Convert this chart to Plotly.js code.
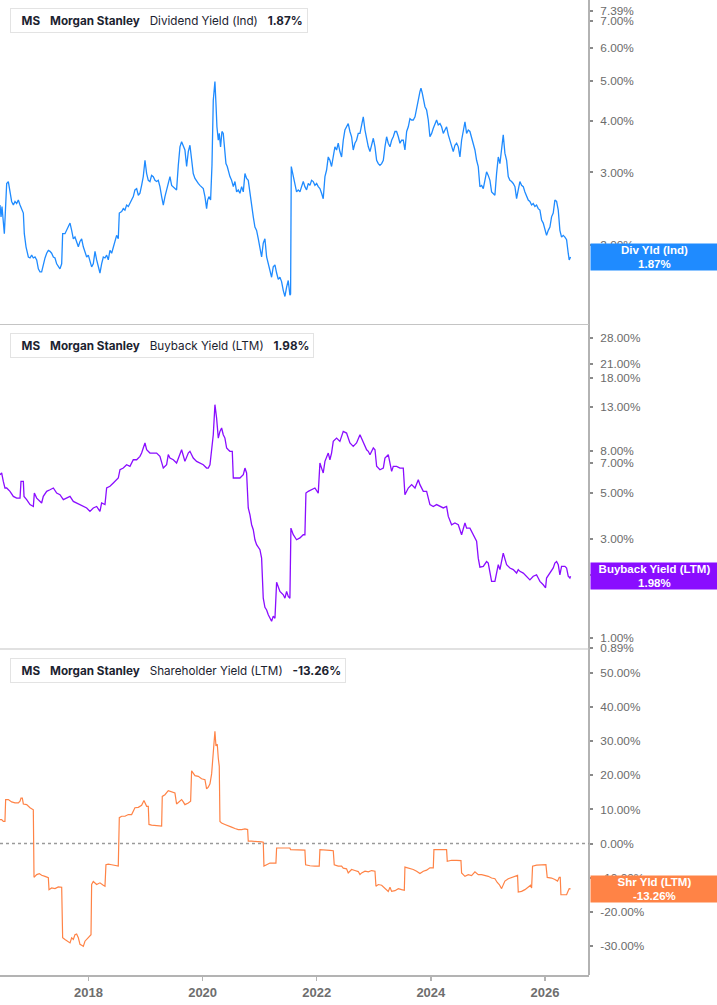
<!DOCTYPE html>
<html>
<head>
<meta charset="utf-8">
<script src="https://cdn.plot.ly/plotly-3.0.1.min.js"></script>
<style>
html,body{margin:0;padding:0;background:#fff;}
#chart{width:717px;height:1005px;}
</style>
</head>
<body>
<div id="chart"></div>
<script>
// ---------------- DATA ----------------
const ticker = "MS";
const company = "Morgan Stanley";

const divName = "Dividend Yield (Ind)";
const divShort = "Div Yld (Ind)";
const divYears = [
2016.449,2016.467,2016.484,2016.507,2016.525,2016.542,2016.566,2016.595,2016.624,2016.653,
2016.683,2016.712,2016.741,2016.770,2016.800,2016.829,2016.858,2016.875,2016.905,2016.946,
2016.975,2017.004,2017.033,2017.062,2017.092,2017.121,2017.150,2017.179,2017.208,2017.238,
2017.267,2017.296,2017.325,2017.354,2017.384,2017.413,2017.442,2017.471,2017.500,2017.530,
2017.547,2017.588,2017.617,2017.646,2017.676,2017.705,2017.734,2017.763,2017.792,2017.822,
2017.851,2017.880,2017.909,2017.938,2017.968,2017.997,2018.026,2018.055,2018.084,2018.114,
2018.143,2018.172,2018.201,2018.230,2018.260,2018.289,2018.318,2018.347,2018.376,2018.406,
2018.435,2018.464,2018.493,2018.522,2018.540,2018.581,2018.610,2018.639,2018.668,2018.698,
2018.727,2018.756,2018.785,2018.814,2018.844,2018.873,2018.902,2018.931,2018.960,2018.990,
2019.019,2019.048,2019.077,2019.106,2019.136,2019.165,2019.194,2019.223,2019.252,2019.282,
2019.311,2019.340,2019.369,2019.398,2019.428,2019.457,2019.486,2019.515,2019.544,2019.574,
2019.603,2019.632,2019.661,2019.690,2019.720,2019.749,2019.778,2019.807,2019.836,2019.866,
2019.895,2019.924,2019.953,2019.982,2020.012,2020.041,2020.070,2020.088,2020.111,2020.140,
2020.164,2020.187,2020.216,2020.234,2020.251,2020.275,2020.292,2020.315,2020.339,2020.362,
2020.385,2020.409,2020.432,2020.456,2020.479,2020.508,2020.538,2020.567,2020.596,2020.625,
2020.654,2020.684,2020.713,2020.742,2020.771,2020.800,2020.830,2020.859,2020.888,2020.917,
2020.946,2020.976,2021.005,2021.034,2021.063,2021.092,2021.122,2021.151,2021.180,2021.209,
2021.238,2021.268,2021.297,2021.326,2021.355,2021.384,2021.414,2021.443,2021.472,2021.501,
2021.530,2021.542,2021.554,2021.589,2021.618,2021.647,2021.676,2021.706,2021.735,2021.764,
2021.793,2021.822,2021.852,2021.881,2021.910,2021.939,2021.968,2021.998,2022.027,2022.056,
2022.085,2022.114,2022.144,2022.173,2022.202,2022.231,2022.260,2022.290,2022.319,2022.348,
2022.377,2022.406,2022.436,2022.465,2022.494,2022.523,2022.552,2022.582,2022.611,2022.640,
2022.669,2022.698,2022.728,2022.758,2022.787,2022.816,2022.846,2022.875,2022.904,2022.933,
2022.962,2022.992,2023.021,2023.050,2023.079,2023.108,2023.138,2023.167,2023.196,2023.225,
2023.254,2023.284,2023.313,2023.342,2023.371,2023.400,2023.430,2023.459,2023.488,2023.517,
2023.546,2023.576,2023.605,2023.634,2023.663,2023.692,2023.722,2023.751,2023.780,2023.809,
2023.827,2023.850,2023.868,2023.897,2023.926,2023.955,2023.984,2024.014,2024.043,2024.072,
2024.101,2024.130,2024.160,2024.189,2024.218,2024.247,2024.276,2024.306,2024.335,2024.364,
2024.393,2024.422,2024.452,2024.481,2024.510,2024.539,2024.568,2024.598,2024.627,2024.656,
2024.685,2024.714,2024.744,2024.773,2024.802,2024.831,2024.860,2024.890,2024.919,2024.948,
2024.977,2025.006,2025.036,2025.065,2025.094,2025.123,2025.152,2025.182,2025.211,2025.240,
2025.269,2025.298,2025.328,2025.357,2025.386,2025.415,2025.444,2025.474,2025.503,2025.532,
2025.561,2025.590,2025.620,2025.649,2025.678,2025.707,2025.736,2025.766,2025.795,2025.824,
2025.853,2025.882,2025.912,2025.941,2025.970,2025.999,2026.028,2026.058,2026.087,2026.116,
2026.145,2026.174,2026.204,2026.233,2026.262,2026.291,2026.320,2026.350,2026.379,2026.408,
2026.425,2026.449];
const divYield = [
2.50,2.34,2.48,2.21,2.13,2.39,2.82,2.85,2.72,2.55,
2.50,2.55,2.52,2.57,2.50,2.43,2.39,2.13,1.98,1.87,
1.86,1.89,1.86,1.87,1.84,1.75,1.72,1.72,1.80,1.86,
1.91,1.94,1.93,1.91,1.87,1.86,1.80,1.77,1.75,1.80,
2.13,2.13,2.17,2.21,2.26,2.17,2.07,2.09,2.02,1.98,
2.04,2.07,1.98,1.91,1.87,1.89,1.84,1.77,1.80,1.93,
1.84,1.77,1.71,1.80,1.87,1.86,1.89,1.84,1.94,1.91,
1.98,2.02,2.11,2.07,2.39,2.41,2.45,2.43,2.50,2.48,
2.52,2.57,2.62,2.72,2.74,2.64,2.67,2.79,2.93,3.21,
2.98,2.87,2.85,2.95,2.93,2.87,2.85,2.87,2.77,2.62,
2.50,2.62,2.72,2.82,2.93,2.79,2.77,2.74,2.72,3.12,
3.46,3.56,3.46,3.40,3.10,3.37,3.49,3.27,2.98,2.90,
2.85,2.82,2.79,2.77,2.74,2.62,2.45,2.57,2.62,2.57,
3.12,4.49,4.98,4.41,3.87,3.59,3.73,3.46,3.77,3.73,
3.46,3.15,3.10,2.98,2.93,2.87,2.77,2.85,2.69,2.72,
2.67,2.77,2.69,2.98,2.90,2.87,2.67,2.45,2.34,2.21,
2.17,2.07,1.98,1.87,2.02,2.07,1.87,1.80,1.71,1.67,
1.77,1.79,1.71,1.65,1.67,1.63,1.55,1.50,1.58,1.64,
1.51,1.52,3.10,2.93,2.82,2.69,2.72,2.69,2.77,2.85,
2.77,2.72,2.82,2.79,2.87,2.85,2.79,2.82,2.77,2.74,
2.67,2.59,2.93,3.04,3.27,3.21,3.10,3.30,3.46,3.40,
3.53,3.37,3.27,3.59,3.80,3.87,3.94,3.77,3.66,3.40,
3.53,3.59,3.73,3.73,3.94,4.09,3.80,3.59,3.46,3.37,
3.53,3.63,3.46,3.21,3.15,3.12,3.15,3.21,3.46,3.66,
3.53,3.46,3.59,3.66,3.77,3.77,3.66,3.53,3.59,3.59,
3.40,3.77,3.87,4.05,4.02,4.02,4.09,4.25,4.49,4.71,
4.80,4.67,4.49,4.33,4.25,4.02,3.66,3.73,3.84,3.94,
4.02,3.91,3.94,3.87,3.73,3.80,3.87,3.70,3.59,3.46,
3.37,3.49,3.53,3.46,3.27,3.59,3.77,3.98,3.73,3.80,
3.77,3.66,3.53,3.40,3.21,3.10,2.77,2.79,2.74,2.87,
3.01,2.95,2.87,2.69,2.67,2.64,2.98,3.27,3.15,3.37,
3.70,3.34,3.21,2.93,2.87,2.85,2.82,2.77,2.59,2.72,
2.85,2.79,2.77,2.69,2.62,2.57,2.55,2.50,2.52,2.48,
2.50,2.45,2.43,2.30,2.26,2.17,2.11,2.17,2.21,2.34,
2.39,2.57,2.55,2.43,2.17,2.09,2.11,2.09,2.06,1.91,
1.84,1.87];

const bbName = "Buyback Yield (LTM)";
const bbShort = "Buyback Yield (LTM)";
const bbYears = [
2016.449,2016.478,2016.507,2016.536,2016.566,2016.624,2016.683,2016.741,2016.800,2016.817,
2016.858,2016.870,2016.916,2016.975,2017.033,2017.051,2017.092,2017.150,2017.179,2017.208,
2017.267,2017.325,2017.384,2017.442,2017.500,2017.559,2017.617,2017.676,2017.734,2017.792,
2017.851,2017.909,2017.968,2018.026,2018.084,2018.143,2018.201,2018.230,2018.289,2018.318,
2018.376,2018.435,2018.493,2018.522,2018.552,2018.610,2018.668,2018.727,2018.785,2018.844,
2018.902,2018.931,2018.960,2018.990,2019.019,2019.077,2019.136,2019.194,2019.252,2019.311,
2019.369,2019.398,2019.428,2019.486,2019.544,2019.603,2019.632,2019.690,2019.749,2019.778,
2019.836,2019.895,2019.953,2020.012,2020.070,2020.099,2020.129,2020.158,2020.187,2020.216,
2020.245,2020.275,2020.304,2020.333,2020.362,2020.391,2020.421,2020.450,2020.479,2020.520,
2020.538,2020.596,2020.654,2020.713,2020.742,2020.771,2020.800,2020.830,2020.859,2020.888,
2020.917,2020.946,2021.005,2021.034,2021.063,2021.092,2021.122,2021.151,2021.180,2021.209,
2021.238,2021.268,2021.297,2021.326,2021.355,2021.414,2021.443,2021.472,2021.501,2021.530,
2021.548,2021.589,2021.647,2021.706,2021.764,2021.793,2021.811,2021.852,2021.910,2021.968,
2022.027,2022.056,2022.085,2022.114,2022.144,2022.202,2022.231,2022.260,2022.290,2022.348,
2022.406,2022.465,2022.523,2022.582,2022.640,2022.698,2022.758,2022.787,2022.816,2022.875,
2022.904,2022.933,2022.992,2023.021,2023.050,2023.108,2023.167,2023.196,2023.254,2023.313,
2023.342,2023.400,2023.459,2023.517,2023.546,2023.605,2023.663,2023.722,2023.780,2023.809,
2023.868,2023.926,2023.984,2024.043,2024.101,2024.160,2024.218,2024.276,2024.306,2024.364,
2024.422,2024.481,2024.539,2024.598,2024.627,2024.685,2024.744,2024.802,2024.831,2024.860,
2024.919,2024.977,2025.006,2025.065,2025.123,2025.152,2025.182,2025.211,2025.269,2025.328,
2025.386,2025.444,2025.503,2025.532,2025.561,2025.620,2025.678,2025.736,2025.795,2025.853,
2025.882,2025.912,2025.970,2026.011,2026.028,2026.087,2026.145,2026.174,2026.204,2026.233,
2026.262,2026.291,2026.350,2026.379,2026.408,2026.437,2026.449];
const bbYield = [
6.12,6.24,5.68,5.28,5.28,5.09,4.81,4.72,4.72,5.68,
5.68,4.81,4.64,4.39,4.30,4.99,4.72,4.55,4.47,4.81,
5.09,5.18,5.28,4.99,4.90,4.64,4.72,4.81,4.55,4.47,
4.39,4.30,4.23,4.07,4.23,4.30,4.07,4.47,4.39,5.28,
5.38,5.58,5.79,5.90,6.47,6.59,6.84,6.72,7.23,7.23,
7.51,7.79,8.24,8.71,8.08,7.79,7.79,7.79,7.51,6.59,
6.84,7.65,7.37,7.23,6.97,7.79,8.08,7.10,7.79,7.94,
7.37,7.10,6.97,6.84,6.59,6.59,6.84,8.24,9.55,13.34,
11.50,9.20,9.91,10.29,9.55,9.20,8.24,8.08,7.94,7.94,
5.90,5.90,5.90,6.12,6.59,6.24,4.23,3.92,3.51,3.32,
2.97,2.81,2.66,2.42,1.55,1.40,1.36,1.29,1.24,1.20,
1.27,1.24,1.85,1.74,1.67,1.61,1.55,1.67,1.58,1.55,
3.38,3.14,2.97,3.03,3.14,3.14,4.99,5.09,5.18,5.28,
4.99,6.97,6.59,6.24,7.10,7.79,7.23,7.79,8.87,9.20,
8.87,9.91,9.73,8.71,8.39,8.71,9.55,9.20,8.71,8.08,
7.94,7.65,8.24,8.08,6.72,6.47,6.59,7.37,7.65,6.35,
6.72,6.72,6.59,6.59,4.90,5.28,5.48,5.28,5.79,5.48,
5.09,5.09,4.39,4.30,4.39,4.30,4.23,4.30,3.85,3.51,
3.58,3.51,3.14,3.58,3.38,3.38,3.14,2.92,2.42,2.19,
2.21,2.33,2.29,1.87,1.87,2.05,2.25,2.13,2.56,2.25,
2.17,2.13,2.05,2.13,2.09,2.05,1.98,1.90,1.98,2.01,
1.94,1.87,1.80,1.74,1.94,2.05,2.17,2.29,2.33,2.25,
2.01,2.21,2.21,2.17,1.98,1.94,1.98];

const shrName = "Shareholder Yield (LTM)";
const shrShort = "Shr Yld (LTM)";
const shrYears = [
2016.449,2016.478,2016.507,2016.536,2016.548,2016.595,2016.653,2016.712,2016.770,2016.800,
2016.817,2016.840,2016.858,2016.916,2016.975,2017.033,2017.045,2017.092,2017.138,2017.179,
2017.238,2017.296,2017.308,2017.354,2017.413,2017.471,2017.530,2017.547,2017.588,2017.646,
2017.676,2017.705,2017.734,2017.763,2017.792,2017.822,2017.851,2017.880,2017.909,2017.938,
2017.968,2017.997,2018.026,2018.044,2018.055,2018.084,2018.143,2018.201,2018.260,2018.289,
2018.306,2018.347,2018.406,2018.464,2018.522,2018.540,2018.581,2018.639,2018.698,2018.756,
2018.785,2018.814,2018.873,2018.931,2018.972,2019.019,2019.048,2019.060,2019.106,2019.165,
2019.223,2019.282,2019.293,2019.340,2019.398,2019.457,2019.515,2019.544,2019.603,2019.632,
2019.661,2019.690,2019.749,2019.790,2019.807,2019.866,2019.924,2019.982,2020.041,2020.070,
2020.099,2020.129,2020.158,2020.187,2020.205,2020.216,2020.234,2020.257,2020.275,2020.292,
2020.304,2020.333,2020.391,2020.450,2020.508,2020.567,2020.625,2020.684,2020.742,2020.789,
2020.800,2020.859,2020.946,2021.034,2021.063,2021.075,2021.122,2021.180,2021.238,2021.285,
2021.297,2021.384,2021.472,2021.530,2021.542,2021.618,2021.706,2021.793,2021.805,2021.881,
2021.968,2022.044,2022.056,2022.144,2022.231,2022.290,2022.307,2022.377,2022.436,2022.465,
2022.523,2022.552,2022.611,2022.669,2022.728,2022.758,2022.787,2022.846,2022.904,2022.962,
2023.021,2023.038,2023.079,2023.138,2023.196,2023.254,2023.284,2023.313,2023.371,2023.430,
2023.488,2023.535,2023.546,2023.605,2023.692,2023.751,2023.809,2023.868,2023.926,2023.984,
2024.043,2024.054,2024.130,2024.218,2024.276,2024.288,2024.364,2024.452,2024.528,2024.539,
2024.598,2024.656,2024.714,2024.773,2024.831,2024.890,2024.948,2025.006,2025.065,2025.123,
2025.164,2025.199,2025.240,2025.269,2025.298,2025.357,2025.415,2025.474,2025.520,2025.532,
2025.590,2025.649,2025.707,2025.748,2025.766,2025.783,2025.853,2025.941,2026.017,2026.040,
2026.116,2026.174,2026.221,2026.250,2026.268,2026.280,2026.350,2026.379,2026.408,2026.425,
2026.449];
const shrYield = [
7.0,7.0,6.5,6.5,12.9,12.9,12.2,11.9,11.9,12.4,
13.3,13.3,11.6,11.4,10.5,9.9,-9.9,-9.1,-8.8,-9.3,
-9.6,-10.0,-13.5,-13.0,-13.2,-12.7,-12.8,-27.6,-28.1,-28.6,
-29.1,-27.6,-28.1,-26.7,-26.5,-27.6,-29.5,-29.8,-30.1,-28.6,
-28.1,-27.6,-27.1,-26.7,-12.0,-11.1,-12.0,-11.5,-12.2,-12.5,
-6.2,-6.0,-6.2,-6.3,-6.6,7.6,8.0,8.0,8.5,8.5,
9.5,10.5,10.6,11.2,12.6,10.9,10.9,5.6,5.4,5.3,
5.3,5.1,13.8,14.3,15.5,15.1,14.8,11.6,12.6,12.9,
12.2,11.4,11.9,12.4,21.3,19.9,19.7,19.0,18.7,16.0,
16.5,17.5,20.4,26.0,29.5,32.9,28.6,29.1,25.0,22.6,
6.5,6.0,5.6,5.1,4.8,4.4,4.1,4.1,4.3,4.1,
0.7,0.7,0.7,0.5,0.4,-6.6,-6.2,-5.7,-5.7,-5.7,
-1.3,-1.3,-1.3,-1.3,-1.8,-1.8,-1.9,-1.9,-6.2,-6.5,
-6.6,-6.6,-1.8,-1.8,-2.0,-2.1,-6.2,-6.6,-6.6,-7.2,
-7.4,-8.6,-7.6,-7.9,-8.2,-9.1,-8.6,-8.1,-8.3,-7.9,
-8.1,-12.5,-12.0,-12.2,-13.0,-14.0,-12.8,-14.0,-13.8,-13.2,
-13.5,-13.7,-6.9,-7.1,-7.6,-8.1,-8.8,-8.1,-7.8,-7.1,
-7.1,-1.8,-1.8,-1.8,-1.8,-5.2,-4.9,-4.9,-5.0,-8.6,
-9.6,-9.1,-9.4,-8.3,-9.1,-9.1,-9.3,-9.6,-10.1,-10.3,
-11.4,-12.0,-13.2,-12.2,-11.0,-10.3,-9.9,-9.4,-9.3,-14.2,
-14.0,-13.5,-12.8,-12.2,-13.0,-6.6,-6.3,-6.2,-6.2,-9.9,
-10.1,-10.5,-11.0,-9.9,-9.9,-15.0,-15.0,-15.0,-13.8,-13.2,
-13.26];

const yearTicks = [2018, 2020, 2022, 2024, 2026];
const divTicks = [2, 3, 4, 5, 6, 7, 7.39];
const bbTicks = [0.89, 1, 2, 3, 5, 7, 8, 13, 18, 21, 28];
const shrTicks = [-30, -20, -10, 0, 10, 20, 30, 40, 50];

// ---------------- STYLE ----------------
const BLUE = "#1f8bff";
const PURPLE = "#8a0dff";
const ORANGE = "#ff8346";
const W = 717, H = 1005;
const M = {l: 0, r: 128, t: 0, b: 30};
const plotW = W - M.l - M.r, plotH = H - M.t - M.b;
const py = px => 1 - px / plotH;      // pixel-from-top -> paper y
const pxX = px => px / plotW;         // pixel-from-left -> paper x

const pct = v => v.toFixed(2) + "%";
const last = a => a[a.length - 1];

const tickFont = {family: "'Liberation Sans', Arial, sans-serif", size: 11.8, color: "#6b6b6b"};

function yAxis(domain, type, range, ticks) {
  return {
    domain: domain, type: type, range: range, side: "right", anchor: "x",
    tickmode: "array", tickvals: ticks, ticktext: ticks.map(pct),
    showgrid: false, zeroline: false, showline: false,
    ticks: "outside", ticklen: 3, tickwidth: 2, tickcolor: "#8a8a8a",
    ticklabelstandoff: 5, tickfont: tickFont, fixedrange: true
  };
}

const traces = [
  {x: divYears, y: divYield, yaxis: "y", type: "scatter", mode: "lines",
   line: {color: BLUE, width: 1.3}, hoverinfo: "skip"},
  {x: bbYears, y: bbYield, yaxis: "y2", type: "scatter", mode: "lines",
   line: {color: PURPLE, width: 1.3}, hoverinfo: "skip"},
  {x: shrYears, y: shrYield, yaxis: "y3", type: "scatter", mode: "lines",
   line: {color: ORANGE, width: 1.2}, hoverinfo: "skip"}
];

function legendAnn(yc, metric, val) {
  const sp = "\u00a0\u00a0\u00a0";
  return {
    xref: "paper", yref: "paper", x: pxX(10), y: py(yc), xanchor: "left", yanchor: "middle",
    showarrow: false, align: "left",
    text: "\u00a0\u00a0<b>" + ticker + "</b>" + sp + "<b>" + company + "</b>" + sp + metric + sp + "<b>" + pct(val) + "</b>",
    font: {family: "Inter, 'Noto Sans', sans-serif", size: 11.7, color: "#1c2330"},
    bgcolor: "#ffffff", bordercolor: "#e3e3e3", borderwidth: 1, borderpad: 4, height: 15
  };
}
function sideAnn(yref, yv, label, val, color) {
  return {
    xref: "paper", yref: yref, x: 1, y: yv, xanchor: "left", yanchor: "middle", xshift: 1,
    showarrow: false, align: "center",
    text: "<b>" + label + "</b><br><b>" + pct(val) + "</b>",
    font: {family: "'Liberation Sans', Arial, sans-serif", size: 11.5, color: "#ffffff"},
    bgcolor: color, borderpad: 1, width: 125, height: 24
  };
}
function bar(y0, y1, color) {
  return {type: "rect", xref: "paper", yref: "paper", x0: pxX(10), x1: pxX(14),
          y0: py(y1), y1: py(y0), fillcolor: color, line: {width: 0}, layer: "above"};
}

const layout = {
  width: W, height: H, margin: M,
  paper_bgcolor: "#ffffff", plot_bgcolor: "#ffffff", showlegend: false,
  xaxis: {
    type: "linear", range: [2016.449, 2026.772], anchor: "y3",
    tickmode: "array", tickvals: yearTicks, ticktext: yearTicks.map(String),
    showgrid: false, zeroline: false, showline: true, linecolor: "#b3b3b3", linewidth: 2,
    ticks: "outside", ticklen: 4, tickwidth: 1.5, tickcolor: "#b3b3b3",
    tickfont: {family: "'Liberation Sans', Arial, sans-serif", size: 13, color: "#6e6e6e", weight: "bold"},
    fixedrange: true
  },
  yaxis: yAxis([py(324), 1], "log", [0.1093, 0.8953], divTicks),
  yaxis2: yAxis([py(649), py(325)], "log", [-0.055, 1.510], bbTicks),
  yaxis3: yAxis([0, py(650)], "linear", [-38.5, 56.7], shrTicks),
  shapes: [
    {type: "line", xref: "paper", yref: "paper", x0: 1, x1: 1, y0: 0, y1: 1,
     line: {color: "#b3b3b3", width: 2}},
    {type: "line", xref: "paper", yref: "paper", x0: 0, x1: 1, y0: py(324.5), y1: py(324.5),
     line: {color: "#c4c4c4", width: 1.2}},
    {type: "line", xref: "paper", yref: "paper", x0: 0, x1: 1, y0: py(649), y1: py(649),
     line: {color: "#c4c4c4", width: 1.2}},
    {type: "line", xref: "paper", yref: "y3", x0: 0, x1: 1, y0: 0, y1: 0,
     line: {color: "#9a9a9a", width: 1.5, dash: "dot"}},
    bar(8, 33, BLUE), bar(333, 358, PURPLE), bar(658, 683, ORANGE)
  ],
  annotations: [
    legendAnn(20.5, divName, last(divYield)),
    legendAnn(345.5, bbName, last(bbYield)),
    legendAnn(670.5, shrName, last(shrYield)),
    sideAnn("y", Math.log10(last(divYield)), divShort, last(divYield), BLUE),
    sideAnn("y2", Math.log10(last(bbYield)), bbShort, last(bbYield), PURPLE),
    sideAnn("y3", last(shrYield), shrShort, last(shrYield), ORANGE)
  ]
};

Plotly.newPlot("chart", traces, layout, {displayModeBar: false, staticPlot: true});
</script>
</body>
</html>
